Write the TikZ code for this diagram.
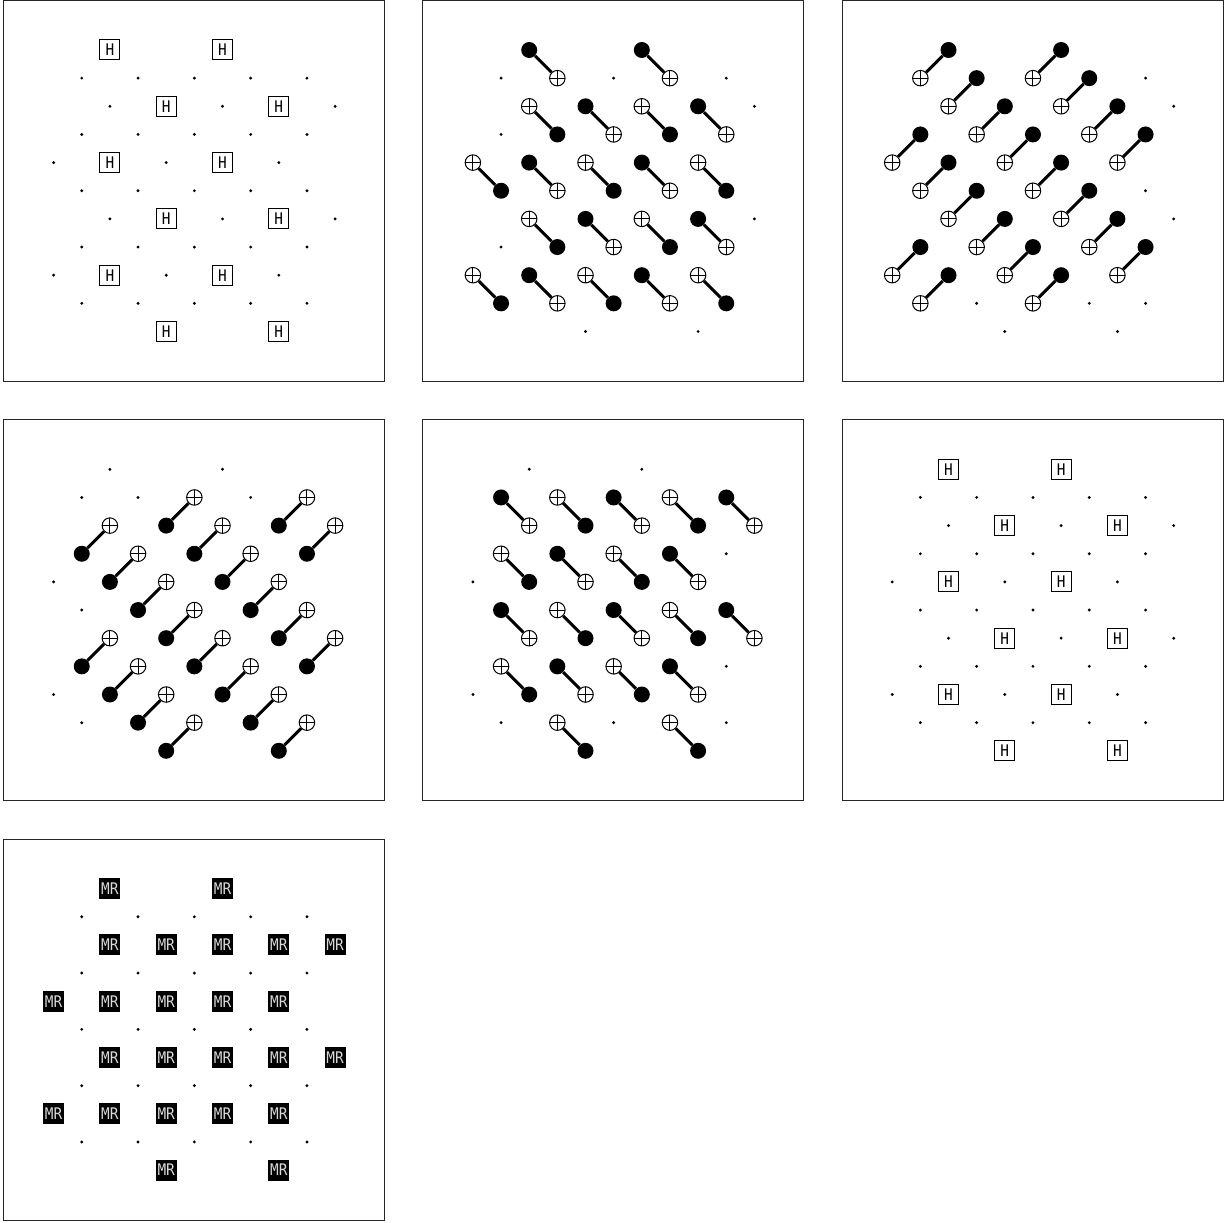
\documentclass[tikz,border=0pt]{standalone}
\usepackage{fontspec}
\setmonofont[FakeStretch=0.9]{DejaVu Sans Mono}
\tikzset{
  x=1pt,y=1pt,
  frame/.style={draw=black!85,line width=1pt},
  dotq/.style={circle,fill=black,inner sep=0pt,minimum size=3.2pt},
  hbox/.style={draw=black,fill=white,line width=1pt,inner sep=0pt,minimum size=20pt,font=\ttfamily\fontsize{16}{16}\selectfont},
  mrbox/.style={draw=black,fill=black,text=black!15,line width=1pt,inner sep=0pt,minimum size=20pt,font=\ttfamily\fontsize{16}{16}\selectfont},
  ctrlq/.style={circle,fill=black,inner sep=0pt,minimum size=16pt},
  targq/.style={circle,draw=black,fill=white,line width=1pt,inner sep=0pt,minimum size=15.5pt,
    path picture={\draw[line width=1pt] (path picture bounding box.north)--(path picture bounding box.south)
      (path picture bounding box.west)--(path picture bounding box.east);}},
  cxline/.style={draw=black,line width=3pt},
}
\newcommand\gx[1]{{53.6+28.15*#1}}
\newcommand\gy[1]{{-50-28.15*#1}}
\newcommand\panel[4]{\begin{scope}[xshift=#1*419.3pt,yshift=-#2*419.3pt,name prefix=p#1#2-]
  \node[frame,minimum size=381pt,inner sep=0pt] (frame) at (194,-191) {};
  #3
  \foreach \ci/\ri in {#4} \node[dotq] (\ci-\ri) at (\gx{\ci},\gy{\ri}) {};
\end{scope}}
\newcommand\hgates{\foreach \ci/\ri in {2/0,6/0,4/2,8/2,2/4,6/4,4/6,8/6,2/8,6/8,4/10,8/10} \node[hbox] (\ci-\ri) at (\gx{\ci},\gy{\ri}) {H};}
\newcommand\cxs[1]{\foreach \ca/\ra/\ta/\tb in {#1}{
  \node[ctrlq] (\ca-\ra) at (\gx{\ca},\gy{\ra}) {};
  \node[targq] (\ta-\tb) at (\gx{\ta},\gy{\tb}) {};
  \draw[cxline] (\ca-\ra) -- (\ta-\tb);}}
\begin{document}
\begin{tikzpicture}
\useasboundingbox (0,0) rectangle (1230,-1222);
\panel{0}{0}{\hgates}{2/2,6/2,10/2,0/4,4/4,8/4,2/6,6/6,10/6,0/8,4/8,8/8,1/1,3/1,5/1,7/1,9/1,1/3,3/3,5/3,7/3,9/3,1/5,3/5,5/5,7/5,9/5,1/7,3/7,5/7,7/7,9/7,1/9,3/9,5/9,7/9,9/9}
\panel{1}{0}{\cxs{2/0/3/1,6/0/7/1,3/3/2/2,4/2/5/3,7/3/6/2,8/2/9/3,1/5/0/4,2/4/3/5,5/5/4/4,6/4/7/5,9/5/8/4,3/7/2/6,4/6/5/7,7/7/6/6,8/6/9/7,1/9/0/8,2/8/3/9,5/9/4/8,6/8/7/9,9/9/8/8}}{1/1,5/1,9/1,10/2,1/3,10/6,1/7,4/10,8/10}
\panel{2}{0}{\cxs{2/0/1/1,6/0/5/1,3/1/2/2,7/1/6/2,4/2/3/3,8/2/7/3,1/3/0/4,5/3/4/4,9/3/8/4,2/4/1/5,6/4/5/5,3/5/2/6,7/5/6/6,4/6/3/7,8/6/7/7,1/7/0/8,5/7/4/8,9/7/8/8,2/8/1/9,6/8/5/9}}{9/1,10/2,9/5,10/6,3/9,7/9,9/9,4/10,8/10}
\panel{0}{1}{\cxs{4/2/5/1,8/2/9/1,1/3/2/2,5/3/6/2,9/3/10/2,2/4/3/3,6/4/7/3,3/5/4/4,7/5/8/4,4/6/5/5,8/6/9/5,1/7/2/6,5/7/6/6,9/7/10/6,2/8/3/7,6/8/7/7,3/9/4/8,7/9/8/8,4/10/5/9,8/10/9/9}}{2/0,6/0,1/1,3/1,7/1,0/4,1/5,0/8,1/9}
\panel{1}{1}{\cxs{1/1/2/2,4/2/3/1,5/1/6/2,8/2/7/1,9/1/10/2,2/4/1/3,3/3/4/4,6/4/5/3,7/3/8/4,1/5/2/6,4/6/3/5,5/5/6/6,8/6/7/5,9/5/10/6,2/8/1/7,3/7/4/8,6/8/5/7,7/7/8/8,4/10/3/9,8/10/7/9}}{2/0,6/0,9/3,0/4,9/7,0/8,1/9,5/9,9/9}
\panel{2}{1}{\hgates}{2/2,6/2,10/2,0/4,4/4,8/4,2/6,6/6,10/6,0/8,4/8,8/8,1/1,3/1,5/1,7/1,9/1,1/3,3/3,5/3,7/3,9/3,1/5,3/5,5/5,7/5,9/5,1/7,3/7,5/7,7/7,9/7,1/9,3/9,5/9,7/9,9/9}
\panel{0}{2}{\foreach \ci/\ri in {2/0,6/0,2/2,4/2,6/2,8/2,10/2,0/4,2/4,4/4,6/4,8/4,2/6,4/6,6/6,8/6,10/6,0/8,2/8,4/8,6/8,8/8,4/10,8/10} \node[mrbox] (\ci-\ri) at (\gx{\ci},\gy{\ri}) {MR};}{1/1,3/1,5/1,7/1,9/1,1/3,3/3,5/3,7/3,9/3,1/5,3/5,5/5,7/5,9/5,1/7,3/7,5/7,7/7,9/7,1/9,3/9,5/9,7/9,9/9}
\end{tikzpicture}
\end{document}
